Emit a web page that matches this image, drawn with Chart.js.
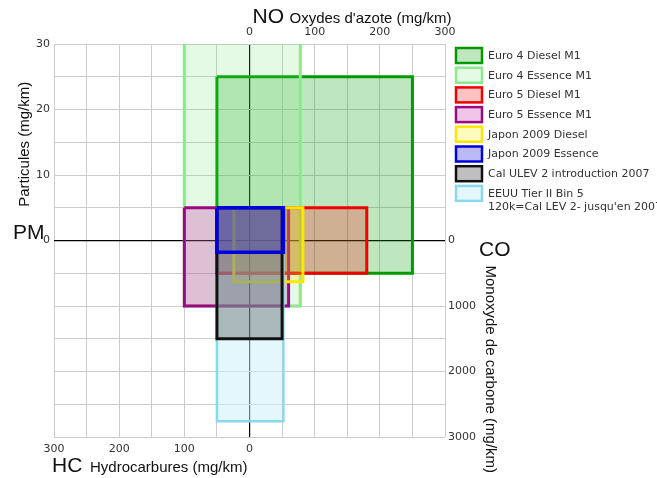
<!DOCTYPE html>
<html>
<head>
<meta charset="utf-8">
<script src="https://cdn.jsdelivr.net/npm/chart.js@4.4.1/dist/chart.umd.min.js"></script>
<style>
  html, body { margin: 0; padding: 0; background: #fff; }
  #wrap { width: 657px; height: 478px; }
</style>
</head>
<body>
<div id="wrap"><canvas id="normes"></canvas></div>
<script>
// limites par norme (mg/km)
const normes = [
    "Euro 4 Diesel M1",
    "Euro 4 Essence M1",
    "Euro 5 Diesel M1",
    "Euro 5 Essence M1",
    "Japon 2009 Diesel",
    "Japon 2009 Essence",
    "Cal ULEV 2 introduction 2007",
    ["EEUU Tier II Bin 5", "120k=Cal LEV 2- jusqu'en 2007"]
];
const oxydesAzote  = [250, 78, 180, 60, 82, 52, 50, 52];     // NO, vers la droite
const hydrocarbures = [50, 100, 50, 100, 24, 50, 50, 50];    // HC, vers la gauche
const particules   = [25, 31, 5, 5, 5, 5, 5, 5];             // PM, vers le haut
const monoxyde     = [500, 1000, 500, 1000, 630, 180, 1500, 2760]; // CO, vers le bas

const xTicksNO = [0, 100, 200, 300];
const xTicksHC = [300, 200, 100, 0];
const yTicksPM = [30, 20, 10, 0];
const yTicksCO = [0, 1000, 2000, 3000];

const COEF_CO = 100; // 1 mg PM sur l'axe = 100 mg CO

const couleurs = ["#009a00", "#8ee88e", "#ee0000", "#9a0a80", "#ffe600", "#0000dd", "#111111", "#8ad8ea"];
const remplissages = [
    "rgba(0,160,0,0.25)",
    "rgba(110,230,110,0.18)",
    "rgba(255,0,0,0.24)",
    "rgba(190,0,155,0.23)",
    "rgba(255,240,0,0.25)",
    "rgba(0,0,220,0.27)",
    "rgba(0,0,0,0.25)",
    "rgba(200,240,250,0.5)"
];
const epaisseurs = [3, 3, 3, 3, 3, 3.5, 3, 2.5];
const ordre = [8, 7, 6, 5, 4, 1, 2, 3]; // plus petit = dessus

const fontTicks = { family: "DejaVu Sans", size: 11 };
const tickColor = "#333";

const datasets = normes.map((nom, i) => {
    const g = -hydrocarbures[i], d = oxydesAzote[i];
    const h = particules[i], b = -monoxyde[i] / COEF_CO;
    return {
        label: nom,
        data: [{x: g, y: h}, {x: d, y: h}, {x: d, y: b}, {x: g, y: b}, {x: g, y: h}],
        showLine: true,
        fill: "shape",
        borderColor: couleurs[i],
        backgroundColor: remplissages[i],
        borderWidth: epaisseurs[i],
        borderJoinStyle: "miter",
        pointRadius: 0,
        tension: 0,
        order: ordre[i]
    };
});

const titresAxes = {
    id: "titresAxes",
    afterDraw(chart) {
        const c = chart.ctx;
        const a = chart.chartArea;
        const x0 = chart.scales.x.getPixelForValue(0);
        const y0 = chart.scales.y.getPixelForValue(0);
        c.save();
        c.fillStyle = "#111";
        c.textBaseline = "alphabetic";
        c.textAlign = "left";
        c.font = "21px 'Liberation Sans'";
        c.fillText("NO", x0 + 3, a.top - 21);
        c.fillText("HC", a.left - 2, a.bottom + 35);
        c.fillText("PM", 13, y0 - 2);
        c.fillText("CO", a.right + 34, y0 + 15);
        c.font = "15px 'Liberation Sans'";
        c.fillText("Oxydes d'azote (mg/km)", x0 + 40, a.top - 21);
        c.fillText("Hydrocarbures (mg/km)", a.left + 36, a.bottom + 35);
        c.save();
        c.translate(29, (a.top + y0) / 2 + 2);
        c.rotate(-Math.PI / 2);
        c.textAlign = "center";
        c.fillText("Particules (mg/km)", 0, 0);
        c.restore();
        c.save();
        c.translate(a.right + 41, y0 + 25);
        c.rotate(Math.PI / 2);
        c.fillText("Monoxyde de carbone (mg/km)", 0, 0);
        c.restore();
        c.restore();
    }
};

const legende = {
    id: "legende",
    afterDraw(chart) {
        const c = chart.ctx;
        const x = chart.chartArea.right + 11;
        c.save();
        c.font = "11px 'DejaVu Sans'";
        c.textBaseline = "middle";
        chart.data.datasets.forEach((ds, i) => {
            const y = 48 + i * 19.7;
            c.fillStyle = "#fff";
            c.fillRect(x, y, 26, 15);
            c.fillStyle = ds.backgroundColor;
            c.fillRect(x, y, 26, 15);
            c.strokeStyle = ds.borderColor;
            c.lineWidth = 2.5;
            c.strokeRect(x, y, 26, 15);
            c.fillStyle = "#333";
            const lignes = Array.isArray(ds.label) ? ds.label : [ds.label];
            lignes.forEach((t, k) => c.fillText(t, x + 32, y + 8 + k * 13));
        });
        c.restore();
    }
};

const grisGrille = "#cccccc";

new Chart(document.getElementById("normes"), {
    type: "scatter",
    data: { datasets: datasets },
    options: {
        responsive: true,
        maintainAspectRatio: false,
        animation: false,
        layout: { padding: 0 },
        plugins: { legend: { display: false }, tooltip: { enabled: false } },
        scales: {
            x: {
                type: "linear", position: "bottom", min: -300, max: 300,
                afterFit: s => { s.height = 41; },
                border: { display: false },
                grid: { color: grisGrille, drawTicks: false },
                ticks: {
                    stepSize: 50, autoSkip: false, maxRotation: 0, padding: 6,
                    font: fontTicks, color: tickColor,
                    callback: v => xTicksHC.includes(-v) ? String(-v) : ""
                }
            },
            x2: {
                type: "linear", position: "top", min: -300, max: 300, z: 1,
                afterFit: s => { s.height = 44; },
                border: { display: false },
                grid: { drawTicks: false, lineWidth: 1.2, color: c => c.tick && c.tick.value === 0 ? "#000" : "rgba(0,0,0,0)" },
                ticks: {
                    stepSize: 50, autoSkip: false, maxRotation: 0, padding: 5,
                    font: fontTicks, color: tickColor,
                    callback: v => xTicksNO.includes(v) ? String(v) : ""
                }
            },
            y: {
                type: "linear", position: "left", min: -30, max: 30,
                afterFit: s => { s.width = 54; },
                border: { display: false },
                grid: { color: grisGrille, drawTicks: false },
                ticks: {
                    stepSize: 5, autoSkip: false, padding: 4,
                    font: fontTicks, color: tickColor,
                    callback: v => yTicksPM.includes(v) ? String(v) : ""
                }
            },
            y2: {
                type: "linear", position: "right", min: -30, max: 30, z: 1,
                afterFit: s => { s.width = 212; },
                border: { display: false },
                grid: { drawTicks: false, lineWidth: 1.2, color: c => c.tick && c.tick.value === 0 ? "#000" : "rgba(0,0,0,0)" },
                ticks: {
                    stepSize: 5, autoSkip: false, padding: 3,
                    font: fontTicks, color: tickColor,
                    callback: v => yTicksCO.includes(-v * COEF_CO) ? String(-v * COEF_CO) : ""
                }
            }
        }
    },
    plugins: [titresAxes, legende]
});
</script>
</body>
</html>
